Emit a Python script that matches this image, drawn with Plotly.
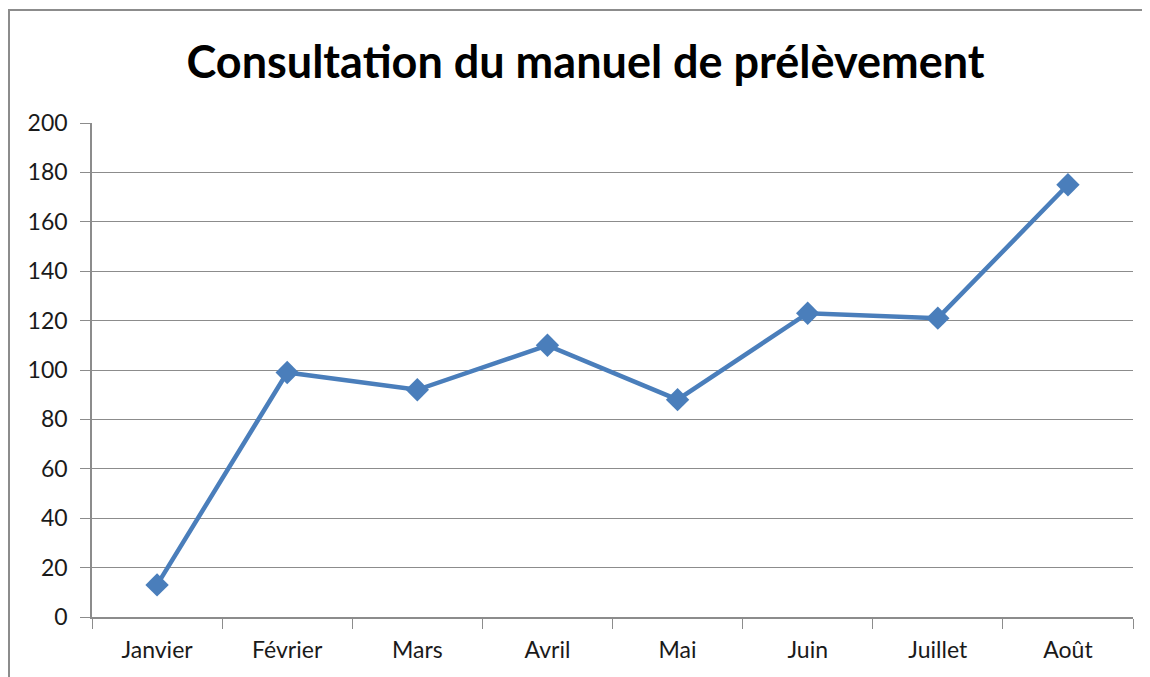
import plotly.graph_objects as go

months = ["Janvier", "Février", "Mars", "Avril", "Mai", "Juin", "Juillet", "Août"]
consultations = [13, 99, 92, 110, 88, 123, 121, 175]
y_ticks = [0, 20, 40, 60, 80, 100, 120, 140, 160, 180, 200]

# page body has an 8px margin; figure sized so it fits the 1150x677 window
W, H = 1142, 669
L, R, T, B = 84, 17, 115, 60
pw, ph = W - L - R, H - T - B

fig = go.Figure()
fig.add_trace(go.Scatter(
    x=months, y=consultations, mode="lines+markers",
    line=dict(color="#4a7ebb", width=4.5),
    marker=dict(symbol="diamond", size=18, color="#4a7ebb"),
    showlegend=False,
))

def px_x(p):
    return (p - L) / pw

def px_y(p):
    return (H - B - p) / ph

fig.add_shape(type="rect", xref="paper", yref="paper",
              x0=px_x(1), x1=px_x(1160), y0=px_y(690), y1=px_y(2),
              line=dict(color="#8c8c8c", width=2), fillcolor="rgba(0,0,0,0)", layer="below")

fig.update_layout(
    width=W, height=H,
    margin=dict(l=L, r=R, t=T, b=B),
    paper_bgcolor="white", plot_bgcolor="white",
    font=dict(family="Lato, Open Sans, sans-serif", size=23, color="#1a1a1a"),
    title=dict(text="<b>Consultation du manuel de prélèvement</b>",
               x=577.5 / W, xanchor="center", y=1 - 54 / H, yanchor="middle",
               yref="container",
               font=dict(family="Lato, Open Sans, sans-serif", size=45, color="black")),
    xaxis=dict(
        type="category", tickson="boundaries", ticks="outside", ticklen=10,
        tickcolor="#8c8c8c", showline=True, linecolor="#8c8c8c", linewidth=1.5,
        showgrid=False, range=[-0.5, 7.5], ticklabelstandoff=12,
    ),
    yaxis=dict(
        range=[0, 200], tickvals=y_ticks, ticks="outside", ticklen=10,
        tickcolor="#8c8c8c", showline=True, linecolor="#8c8c8c", linewidth=1.5,
        showgrid=True, gridcolor="#8c8c8c", gridwidth=1.2, zeroline=False,
        ticklabelstandoff=8,
    ),
)

fig.write_html("out.html")
